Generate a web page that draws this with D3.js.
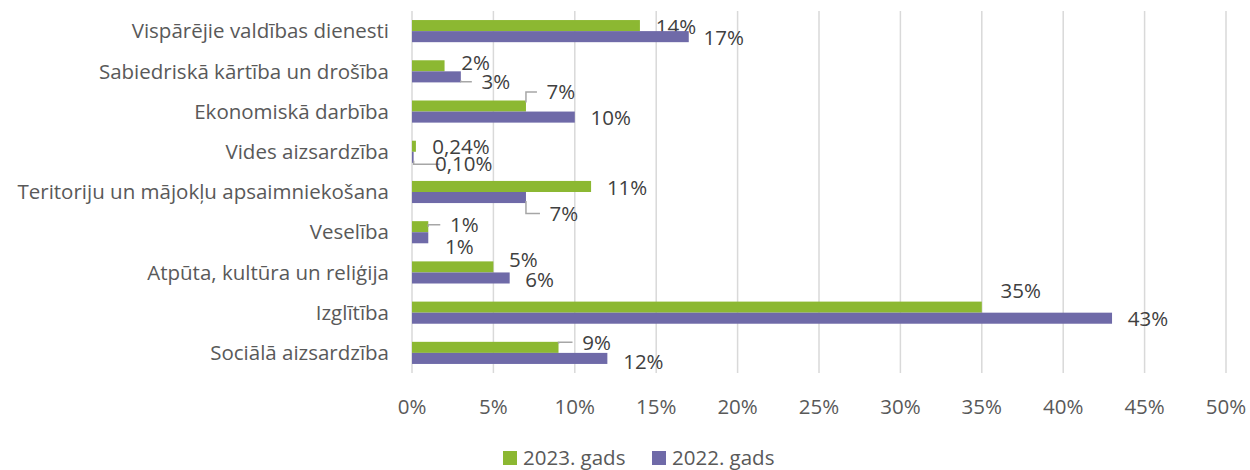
<!DOCTYPE html>
<html>
<head>
<meta charset="utf-8">
<script src="https://cdn.jsdelivr.net/npm/d3@7"></script>
<style>
  body { margin: 0; background: #fff; }
  text { font-family: "Open Sans", "Liberation Sans", Arial, sans-serif; fill: #595959; font-size: 20.5px; }
</style>
</head>
<body>
<div id="chart"></div>
<script>
// data
var categories = ["Vispārējie valdības dienesti", "Sabiedriskā kārtība un drošība", "Ekonomiskā darbība",
  "Vides aizsardzība", "Teritoriju un mājokļu apsaimniekošana", "Veselība",
  "Atpūta, kultūra un reliģija", "Izglītība", "Sociālā aizsardzība"];
var seriesNames = ["2023. gads", "2022. gads"];
var values2023 = [14, 2, 7, 0.24, 11, 1, 5, 35, 9];
var values2022 = [17, 3, 10, 0.10, 7, 1, 6, 43, 12];
var labels2023 = ["14%", "2%", "7%", "0,24%", "11%", "1%", "5%", "35%", "9%"];
var labels2022 = ["17%", "3%", "10%", "0,10%", "7%", "1%", "6%", "43%", "12%"];
var xTicks = [0, 5, 10, 15, 20, 25, 30, 35, 40, 45, 50];

// label placement (offset of label centre from bar end / bar centre, leader yes/no)
var nudge2023 = [[36, 1, 0], [31, -3, 0], [35, -14, 1], [45, 1, 0], [36, 1, 0], [36, -2, 1], [30, -7, 0], [39, -16, 0], [38, -5, 1]];
var nudge2022 = [[35, 1, 0], [35, 5, 1], [36, 1, 0], [50, 7, 1], [38, 16, 1], [31, 9, 0], [30, 2, 0], [36, 1, 0], [36, 3, 0]];

var colors = ["#8cb832", "#6f6aa8"];

var width = 1250, height = 470;
var margin = {top: 11, right: 24, bottom: 97, left: 412};

var svg = d3.select("#chart").append("svg")
  .attr("width", width).attr("height", height);

var x = d3.scaleLinear().domain([0, 50]).range([margin.left, width - margin.right]);
var y = d3.scaleBand().domain(categories)
  .range([margin.top, height - margin.bottom])
  .paddingInner(0.45).paddingOuter(0.225);
var ySub = d3.scaleBand().domain(seriesNames).range([0, y.bandwidth()]);

// grid
svg.append("g").selectAll("line")
  .data(xTicks).enter().append("line")
    .attr("x1", function(d) { return x(d); })
    .attr("x2", function(d) { return x(d); })
    .attr("y1", margin.top)
    .attr("y2", height - margin.bottom)
    .attr("stroke", "#d9d9d9")
    .attr("stroke-width", 1.5);

// x tick labels
svg.append("g").selectAll("text")
  .data(xTicks).enter().append("text")
    .attr("x", function(d) { return x(d); })
    .attr("y", 407)
    .attr("dy", "0.35em")
    .attr("text-anchor", "middle")
    .text(function(d) { return d + "%"; });

// category labels
svg.append("g").selectAll("text")
  .data(categories).enter().append("text")
    .attr("x", 389)
    .attr("y", function(d) { return y(d) + y.bandwidth() / 2; })
    .attr("dy", "0.35em")
    .attr("text-anchor", "end")
    .text(function(d) { return d; });

var series = [
  {name: seriesNames[0], values: values2023, labels: labels2023, nudge: nudge2023, color: colors[0]},
  {name: seriesNames[1], values: values2022, labels: labels2022, nudge: nudge2022, color: colors[1]}
];

series.forEach(function(s) {
  var rows = categories.map(function(c, i) {
    return {cat: c, v: s.values[i], label: s.labels[i], n: s.nudge[i]};
  });
  var g = svg.append("g");

  g.selectAll("rect").data(rows).enter().append("rect")
    .attr("x", x(0))
    .attr("y", function(d) { return y(d.cat) + ySub(s.name); })
    .attr("width", function(d) { return x(d.v) - x(0); })
    .attr("height", ySub.bandwidth())
    .attr("fill", s.color);

  // leader lines
  g.selectAll("path").data(rows.filter(function(d) { return d.n[2]; })).enter().append("path")
    .attr("d", function(d) {
      var bx = x(d.v), by = y(d.cat) + ySub(s.name) + ySub.bandwidth() / 2;
      var ty = by + d.n[1];
      var tx = bx + d.n[0] - 24;
      var sy = d.n[1] < 0 ? by - ySub.bandwidth() / 2 + 2 : by + ySub.bandwidth() / 2 - 2;
      if (Math.abs(d.n[1]) < 4) sy = by;
      return "M" + bx + "," + sy + "L" + bx + "," + ty + "L" + tx + "," + ty;
    })
    .attr("fill", "none")
    .attr("stroke", "#a6a6a6")
    .attr("stroke-width", 1.5);

  g.selectAll("text").data(rows).enter().append("text")
    .attr("x", function(d) { return x(d.v) + d.n[0]; })
    .attr("y", function(d) { return y(d.cat) + ySub(s.name) + ySub.bandwidth() / 2 + d.n[1]; })
    .attr("dy", "0.35em")
    .attr("text-anchor", "middle")
    .style("fill", "#404040")
    .text(function(d) { return d.label; });
});

// legend
var legend = svg.append("g");
var legendX = [503, 652];
seriesNames.forEach(function(name, i) {
  legend.append("rect")
    .attr("x", legendX[i]).attr("y", 451)
    .attr("width", 14).attr("height", 14)
    .attr("fill", colors[i]);
  legend.append("text")
    .attr("x", legendX[i] + 20).attr("y", 458)
    .attr("dy", "0.35em")
    .text(name);
});
</script>
</body>
</html>
